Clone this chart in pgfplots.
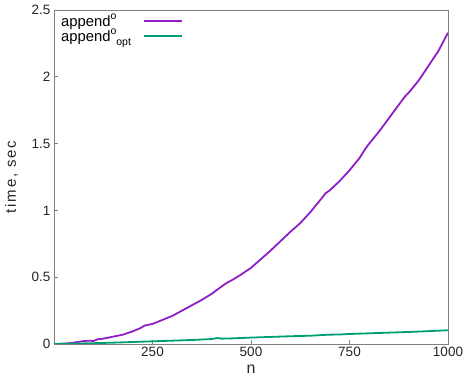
\documentclass[border=0pt]{standalone}
\usepackage{pgfplots}
\pgfplotsset{compat=1.18}
\usepackage{fontspec}
\setmainfont{Liberation Sans}
\definecolor{cpurple}{HTML}{8E1FC8}
\definecolor{cgreen}{HTML}{009E73}
\definecolor{axgray}{HTML}{808080}
\begin{document}
\begin{tikzpicture}
\begin{axis}[
  at={(0,0)}, anchor=south west,
  width=394bp, height=334bp, scale only axis,
  xmin=0, xmax=1000, ymin=0, ymax=2.5,
  xtick={250,500,750,1000},
  ytick={0,0.5,1,1.5,2,2.5},
  xtick pos=bottom, ytick pos=left,
  tick align=inside,
  major tick length=4bp,
  axis line style={axgray, line width=0.8bp},
  tick style={axgray, line width=0.8bp},
  /pgf/number format/assume math mode=true,
  /pgf/number format/1000 sep={},
  tick label style={font=\fontsize{13.5bp}{15bp}\selectfont, text=black!85},
  xlabel={n},
  ylabel={time, sec},
  xlabel style={font=\fontsize{16bp}{18bp}\selectfont, text=black!85, yshift=-1bp},
  ylabel style={font=\fontsize{15bp}{17bp}\selectfont\addfontfeature{LetterSpace=12}, text=black!85, yshift=7bp},
  legend cell align=left,
  legend plot pos=right,
  legend style={draw=none, fill=none, at={(0.005,1.0)}, anchor=north west,
    font=\fontsize{14.8bp}{16bp}\selectfont, row sep=-3bp},
  legend image code/.code={\path (0bp,0bp); \draw[#1] (10bp,0cm) -- (48bp,0cm);},
]
\addplot[cpurple, line width=1.8bp] coordinates {
(0,0) (20,0.002) (40,0.006) (60,0.015) (75,0.022) (90,0.025) (100,0.022)
(110,0.035) (125,0.04) (150,0.055) (175,0.07) (200,0.095) (220,0.12)
(230,0.138) (250,0.15) (275,0.18) (300,0.21) (325,0.25) (350,0.29)
(375,0.33) (400,0.375) (425,0.43) (440,0.46) (450,0.475) (475,0.52)
(500,0.57) (525,0.635) (550,0.70) (575,0.77) (600,0.84) (625,0.905)
(650,0.985) (675,1.075) (690,1.13) (700,1.15) (725,1.22) (750,1.30)
(775,1.39) (790,1.46) (800,1.50) (825,1.59) (850,1.69) (875,1.79)
(890,1.85) (900,1.88) (925,1.97) (950,2.08) (975,2.19) (1000,2.33)
};
\addlegendentry{append\raisebox{0.45em}{\fontsize{10.5bp}{11bp}\selectfont o}}
\addplot[cgreen, line width=1.8bp] coordinates {
(0,0) (50,0.003) (100,0.006) (150,0.01) (200,0.015) (250,0.02) (300,0.025)
(350,0.03) (400,0.037) (415,0.045) (425,0.04) (450,0.042) (500,0.048)
(550,0.053) (600,0.058) (625,0.06) (650,0.062) (675,0.066) (700,0.07)
(725,0.071) (750,0.075) (800,0.08) (850,0.085) (900,0.09) (950,0.096)
(1000,0.103)
};
\addlegendentry{append\raisebox{0.45em}{\fontsize{10.5bp}{11bp}\selectfont o}\raisebox{-0.3em}{\fontsize{10.5bp}{11bp}\selectfont opt}}
\end{axis}
\pgfresetboundingbox
\path[use as bounding box] (-54bp,-33bp) rectangle (418bp,344bp);
\end{tikzpicture}
\end{document}
